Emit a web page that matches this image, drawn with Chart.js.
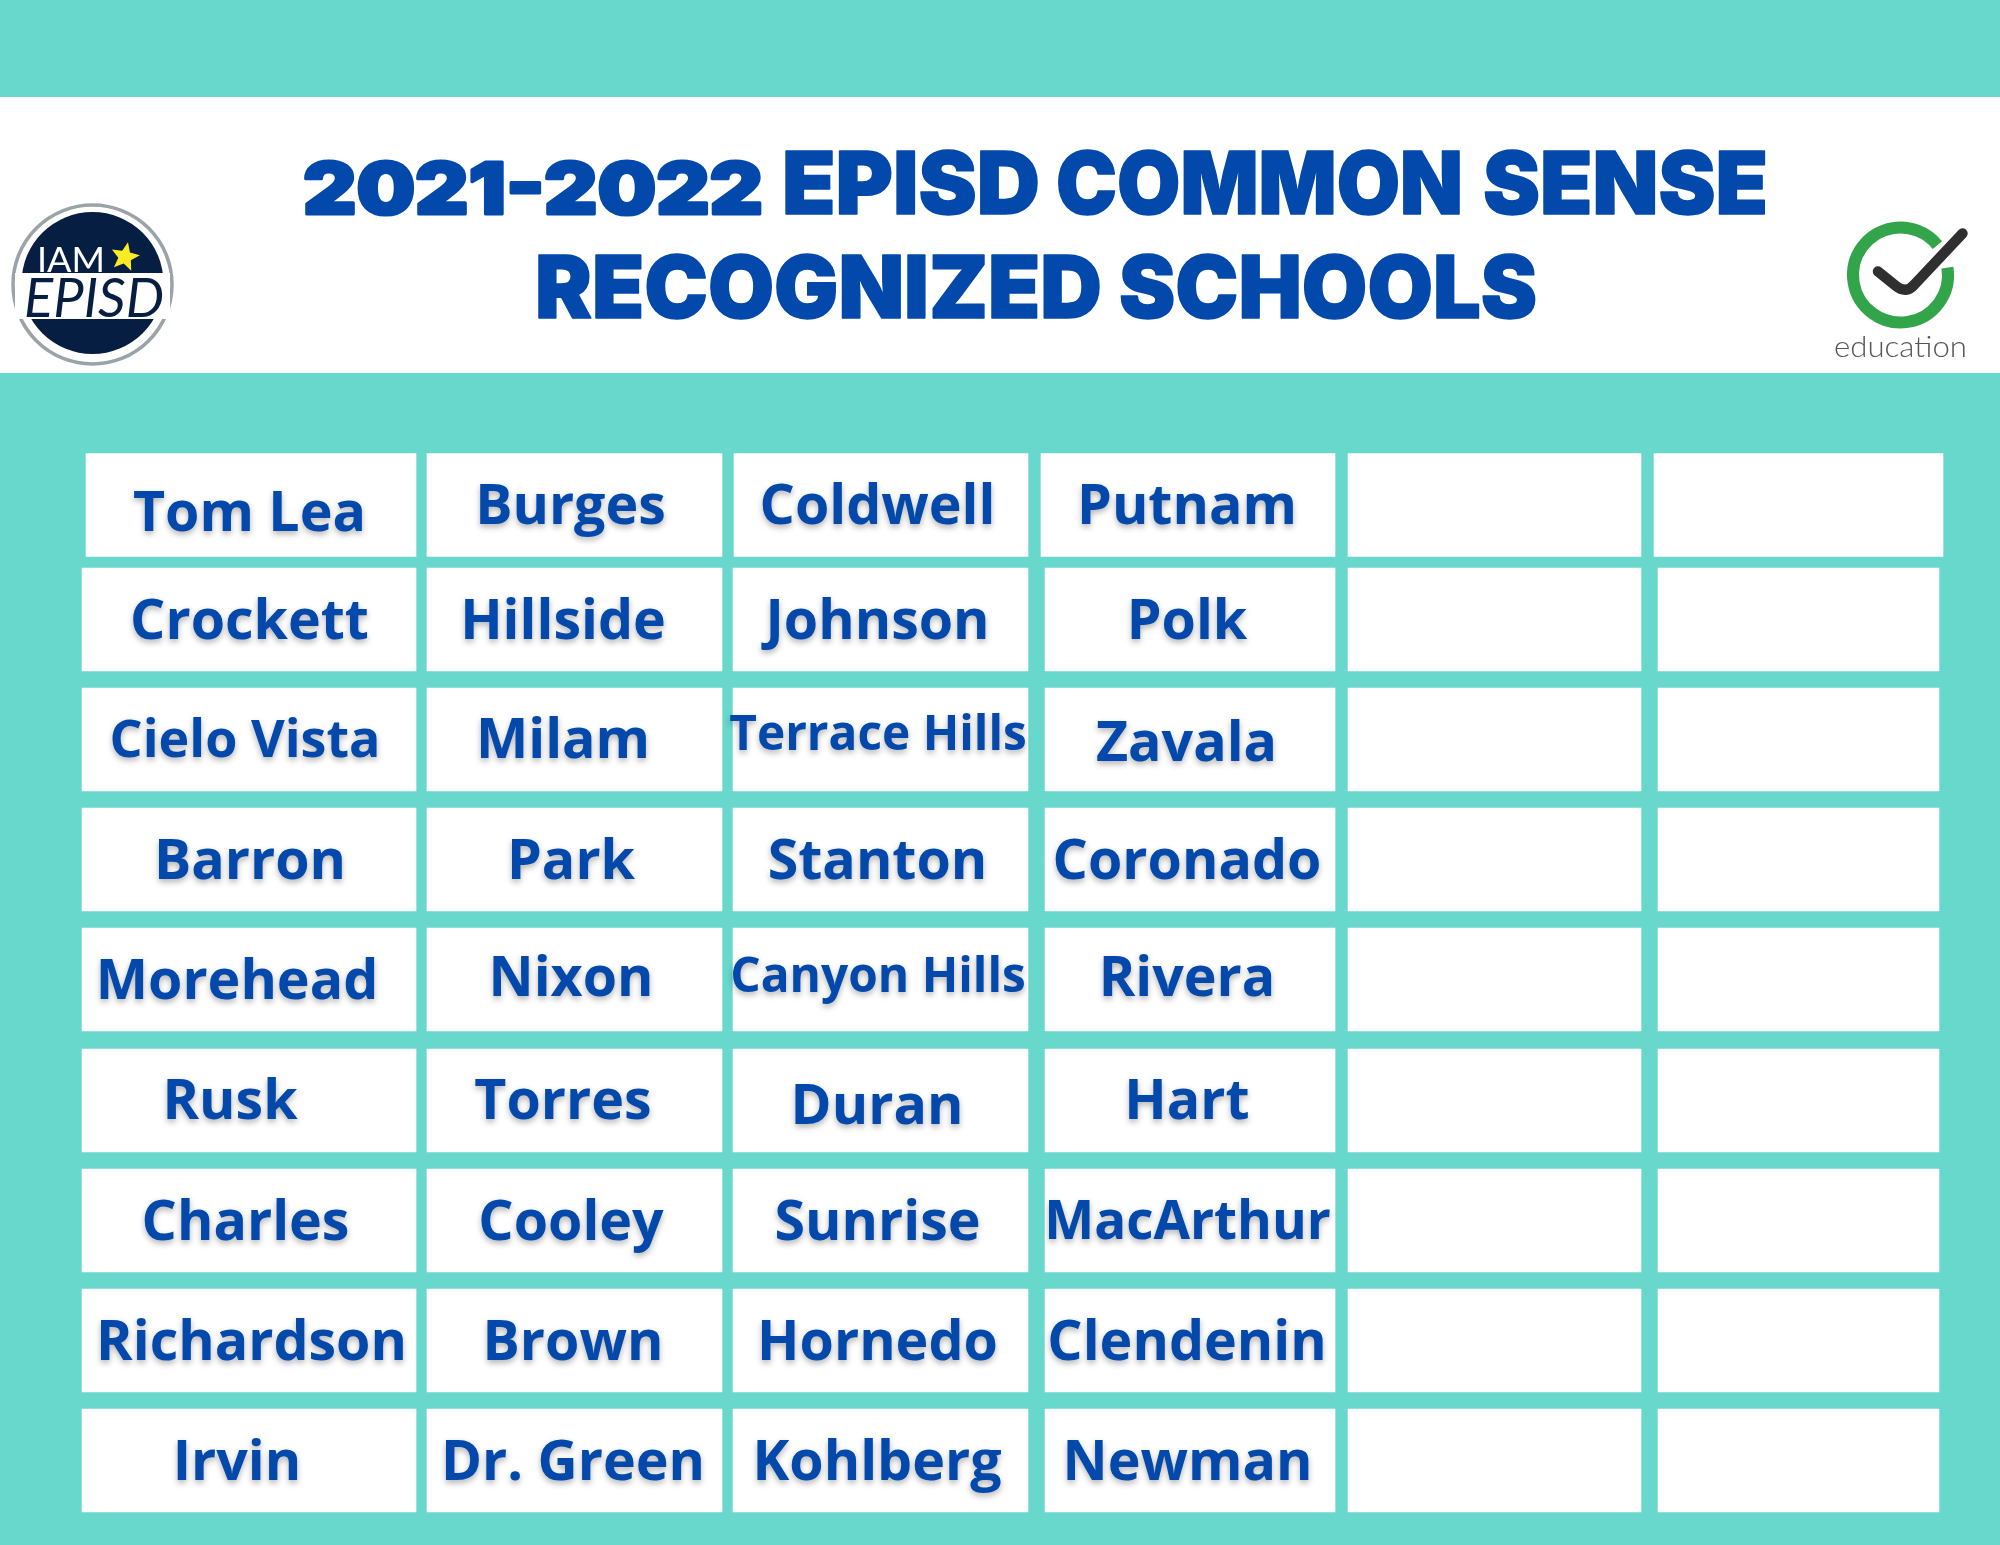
<!DOCTYPE html>
<html>
<head>
<meta charset="utf-8">
<title>2021-2022 EPISD Common Sense Recognized Schools</title>
<script src="https://cdn.jsdelivr.net/npm/chart.js@4"></script>
<style>
  html, body { margin: 0; padding: 0; background: #68d7cc; overflow: hidden; }
  canvas { display: block; }
</style>
</head>
<body>
<canvas id="schools" width="2000" height="1545"></canvas>
<script>
// table content, one list per column
const titleYear = "2021-2022";
const titleFirstWords = ["EPISD", "COMMON", "SENSE"];
const titleSecondWords = ["RECOGNIZED", "SCHOOLS"];
const column1 = ["Tom Lea", "Crockett", "Cielo Vista", "Barron", "Morehead", "Rusk", "Charles", "Richardson", "Irvin"];
const column2 = ["Burges", "Hillside", "Milam", "Park", "Nixon", "Torres", "Cooley", "Brown", "Dr. Green"];
const column3 = ["Coldwell", "Johnson", "Terrace Hills", "Stanton", "Canyon Hills", "Duran", "Sunrise", "Hornedo", "Kohlberg"];
const column4 = ["Putnam", "Polk", "Zavala", "Coronado", "Rivera", "Hart", "MacArthur", "Clendenin", "Newman"];
const column5 = ["", "", "", "", "", "", "", "", ""];
const column6 = ["", "", "", "", "", "", "", "", ""];
const columns = [column1, column2, column3, column4, column5, column6];

// layout of the grid, in scale units (same as reference pixels)
const rowCentres = [505, 619.5, 739.5, 859.5, 979.5, 1100.5, 1220.5, 1340.5, 1460.5];
const columnSpans = [[82, 416], [427, 722], [733, 1028], [1045, 1335], [1348, 1641], [1658, 1939]];
const firstRowSpans = [[86, 416], [427, 722], [734, 1028], [1041, 1335], [1348, 1641], [1654, 1943]];

// where each name sits: centre x, baseline y
const labelSpots = {
  "Tom Lea": [249.5, 531], "Burges": [570.5, 524], "Coldwell": [877.5, 524], "Putnam": [1187, 524],
  "Crockett": [249.5, 639], "Hillside": [563, 639], "Johnson": [877.5, 639], "Polk": [1187, 639],
  "Cielo Vista": [245, 757], "Milam": [563, 757.5], "Terrace Hills": [878, 749.5], "Zavala": [1186.5, 760.5],
  "Barron": [250, 879], "Park": [571, 879], "Stanton": [877.5, 879], "Coronado": [1187, 879],
  "Morehead": [237, 999], "Nixon": [571, 996], "Canyon Hills": [878, 992], "Rivera": [1187, 996],
  "Rusk": [230, 1119], "Torres": [563, 1119], "Duran": [877, 1124], "Hart": [1187, 1119],
  "Charles": [245.5, 1240], "Cooley": [571, 1240], "Sunrise": [877.5, 1240], "MacArthur": [1187.5, 1239],
  "Richardson": [251.5, 1359.5], "Brown": [573, 1359.5], "Hornedo": [877.5, 1359.5], "Clendenin": [1187, 1359.5],
  "Irvin": [237, 1480], "Dr. Green": [573, 1480], "Kohlberg": [877, 1480], "Newman": [1187.5, 1480]
};
const labelSizes = { "Terrace Hills": 47.8, "Canyon Hills": 47.8, "Cielo Vista": 52, "MacArthur": 53 };

// left edge and width of each title word
const firstWordSpans = [[782, 258], [1056, 407], [1483, 285]];
const secondWordSpans = [[535, 567], [1119, 418]];

const BLUE = "#0349ac";
const NAVY = "#051e42";

// stretch a string so it fills a given width, the title fonts are not installed
function fitText(ctx, text, x, base, width, heavy) {
  const natural = ctx.measureText(text).width;
  ctx.save();
  ctx.translate(x, base);
  ctx.scale(width / natural, 1);
  ctx.textAlign = "left";
  ctx.textBaseline = "alphabetic";
  ctx.fillText(text, 0, 0);
  if (heavy) {
    ctx.lineWidth = heavy;
    ctx.lineJoin = "round";
    ctx.strokeStyle = ctx.fillStyle;
    ctx.strokeText(text, 0, 0);
  }
  ctx.restore();
}

function drawStar(ctx, cx, cy, r, turn) {
  ctx.beginPath();
  for (let i = 0; i < 10; i++) {
    const rad = i % 2 ? r * 0.45 : r;
    const a = -Math.PI / 2 + turn + i * Math.PI / 5;
    ctx.lineTo(cx + rad * Math.cos(a), cy + rad * Math.sin(a));
  }
  ctx.closePath();
  ctx.fill();
}

function drawEpisdLogo(ctx) {
  ctx.save();
  ctx.beginPath();
  ctx.arc(92.5, 284.5, 79.5, 0, Math.PI * 2);
  ctx.fillStyle = "#ffffff";
  ctx.fill();
  ctx.lineWidth = 3.5;
  ctx.strokeStyle = "#9aa3a8";
  ctx.stroke();

  ctx.beginPath();
  ctx.arc(92.5, 283, 71, 0, Math.PI * 2);
  ctx.fillStyle = NAVY;
  ctx.fill();
  ctx.fillStyle = "#ffffff";
  ctx.fillRect(15, 273, 155, 46);

  ctx.font = "400 35px Lato";
  fitText(ctx, "IAM", 37, 272, 68);
  ctx.fillStyle = NAVY;
  ctx.font = "italic 400 54px Lato";
  fitText(ctx, "EPISD", 24, 317, 140);
  ctx.fillStyle = "#fbeb25";
  drawStar(ctx, 125, 257, 15, 0.2);
  ctx.restore();
}

function drawCheckLogo(ctx) {
  ctx.save();
  ctx.beginPath();
  ctx.arc(1900.5, 275, 47.5, -9 * Math.PI / 180, 321 * Math.PI / 180);
  ctx.lineWidth = 12;
  ctx.strokeStyle = "#32a44a";
  ctx.stroke();

  ctx.beginPath();
  ctx.moveTo(1878, 271.5);
  ctx.lineTo(1896, 286);
  ctx.quadraticCurveTo(1906, 294, 1914, 285);
  ctx.lineTo(1962.5, 233.5);
  ctx.lineWidth = 10.5;
  ctx.lineCap = "round";
  ctx.strokeStyle = "#2f2f2f";
  ctx.stroke();

  ctx.fillStyle = "#555555";
  ctx.font = "300 30px Lato";
  fitText(ctx, "education", 1834, 357, 133);
  ctx.restore();
}

// white band behind the title, drawn before the table
const headerPlugin = {
  id: "header",
  beforeDatasetsDraw(chart) {
    const ctx = chart.ctx;
    ctx.save();
    ctx.fillStyle = "#ffffff";
    ctx.fillRect(0, 97, 2000, 276);
    ctx.fillStyle = BLUE;
    ctx.font = "900 72px Inter";
    fitText(ctx, titleYear, 303, 213.5, 460, 3);
    ctx.font = "900 87px Inter";
    titleFirstWords.forEach((word, i) => {
      fitText(ctx, word, firstWordSpans[i][0], 214, firstWordSpans[i][1], 1.5);
    });
    titleSecondWords.forEach((word, i) => {
      fitText(ctx, word, secondWordSpans[i][0], 318, secondWordSpans[i][1], 1.5);
    });
    ctx.restore();
    drawEpisdLogo(ctx);
    drawCheckLogo(ctx);
  }
};

// school names on top of the bars, placed through the chart scales
const namesPlugin = {
  id: "names",
  afterDatasetsDraw(chart) {
    const ctx = chart.ctx;
    const { x, y } = chart.scales;
    ctx.save();
    ctx.fillStyle = BLUE;
    ctx.textAlign = "center";
    ctx.textBaseline = "alphabetic";
    ctx.shadowColor = "rgba(0, 0, 0, 0.3)";
    ctx.shadowBlur = 6;
    ctx.shadowOffsetY = 3;
    columns.forEach(names => {
      names.forEach(name => {
        if (!name) return;
        const spot = labelSpots[name];
        const size = labelSizes[name] || 55.5;
        ctx.font = "700 " + size + "px 'Open Sans'";
        ctx.fillText(name, x.getPixelForValue(spot[0]), y.getPixelForValue(spot[1]));
      });
    });
    ctx.restore();
  }
};

new Chart(document.getElementById("schools").getContext("2d"), {
  type: "bar",
  data: {
    datasets: columns.map((names, c) => ({
      label: "Column " + (c + 1),
      data: rowCentres.map((centre, r) => ({
        y: centre,
        x: r === 0 ? firstRowSpans[c] : columnSpans[c]
      })),
      backgroundColor: "#ffffff",
      borderWidth: 0,
      barThickness: 103,
      grouped: false
    }))
  },
  options: {
    indexAxis: "y",
    responsive: false,
    animation: false,
    devicePixelRatio: 1,
    layout: { padding: 0 },
    plugins: {
      legend: { display: false },
      tooltip: { enabled: false },
      title: { display: false }
    },
    scales: {
      x: { type: "linear", min: 0, max: 2000, display: false, stacked: false },
      y: { type: "linear", min: 0, max: 1545, reverse: true, display: false, offset: false }
    }
  },
  plugins: [headerPlugin, namesPlugin]
});
</script>
</body>
</html>
